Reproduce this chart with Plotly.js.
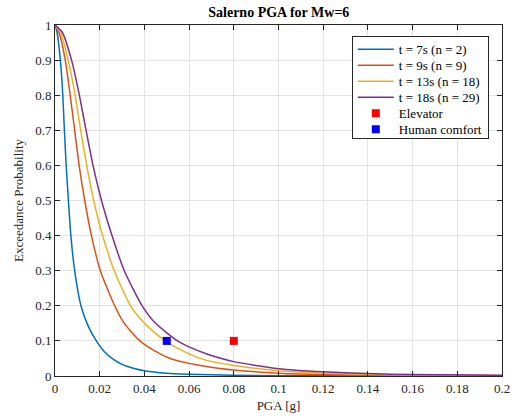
<!DOCTYPE html>
<html>
<head>
<meta charset="utf-8">
<script src="https://cdn.plot.ly/plotly-3.0.1.min.js"></script>
<style>html,body{margin:0;padding:0;background:#fff}#chart{width:515px;height:419px}</style>
</head>
<body>
<div id="chart"></div>
<script>
// Series names
const seriesNames = ["t = 7s (n = 2)", "t = 9s (n = 9)", "t = 13s (n = 18)", "t = 18s (n = 29)"];
// t = 7s
const x7 = [0, 0.0009, 0.0024, 0.0035, 0.0042, 0.005, 0.006, 0.0071, 0.0088, 0.0116, 0.0150, 0.0185, 0.022, 0.026, 0.03, 0.035, 0.04, 0.05, 0.06, 0.08, 0.1, 0.14, 0.2];
const y7 = [1, 0.98, 0.9, 0.8, 0.7, 0.6, 0.5, 0.4, 0.3, 0.2, 0.14, 0.1, 0.07, 0.048, 0.033, 0.022, 0.015, 0.008, 0.005, 0.002, 0.001, 0.0003, 0.0001];
// t = 9s
const x9 = [0, 0.0017, 0.0046, 0.0068, 0.0088, 0.0108, 0.0133, 0.0163, 0.0203, 0.0267, 0.031, 0.0380, 0.045, 0.0515, 0.06, 0.067, 0.08, 0.1, 0.12, 0.15, 0.2];
const y9 = [1, 0.98, 0.9, 0.8, 0.7, 0.6, 0.5, 0.4, 0.3, 0.2, 0.15, 0.1, 0.07, 0.05, 0.036, 0.028, 0.017, 0.008, 0.004, 0.002, 0.001];
// t = 13s
const x13 = [0, 0.0024, 0.0059, 0.009, 0.0115, 0.0142, 0.0173, 0.0213, 0.0265, 0.0338, 0.04, 0.0493, 0.06, 0.067, 0.08, 0.1, 0.12, 0.14, 0.16, 0.2];
const y13 = [1, 0.98, 0.9, 0.8, 0.7, 0.6, 0.5, 0.4, 0.3, 0.2, 0.15, 0.1, 0.063, 0.046, 0.030, 0.015, 0.008, 0.005, 0.003, 0.001];
// t = 18s
const x18 = [0, 0.0032, 0.0074, 0.0109, 0.0139, 0.0170, 0.0208, 0.0255, 0.0310, 0.0390, 0.045, 0.0548, 0.06, 0.067, 0.08, 0.1, 0.12, 0.14, 0.16, 0.2];
const y18 = [1, 0.98, 0.9, 0.8, 0.7, 0.6, 0.5, 0.4, 0.3, 0.2, 0.15, 0.1, 0.083, 0.065, 0.041, 0.021, 0.012, 0.007, 0.004, 0.002];
// Threshold points
const pointNames = ["Elevator", "Human comfort"];
const pointX = [0.08, 0.05];
const pointY = [0.1, 0.1];

const lineColors = ["#0072BD", "#D95319", "#EDB120", "#7E2F8E"];
const pointColors = ["#FF0000", "#0000FF"];
const xs = [x7, x9, x13, x18];
const ys = [y7, y9, y13, y18];
const FONT = "Liberation Serif, Times New Roman, Times, serif";

const traces = xs.map((xv, i) => ({
  x: xv, y: ys[i], name: seriesNames[i], type: "scatter", mode: "lines",
  line: {color: lineColors[i], width: 1.5, shape: "spline", smoothing: 0.6}
}));
pointNames.forEach((n, i) => traces.push({
  x: [pointX[i]], y: [pointY[i]], name: n, type: "scatter", mode: "markers",
  marker: {symbol: "square", size: 8, color: pointColors[i], line: {width: 0}}
}));

const axisCommon = {
  showline: true, linecolor: "#262626", linewidth: 1, mirror: "ticks",
  ticks: "inside", ticklen: 5, tickcolor: "#262626", tickwidth: 1,
  showgrid: true, gridcolor: "#e3e3e3", gridwidth: 1, zeroline: false,
  tickfont: {family: FONT, size: 13, color: "#262626"}
};

const layout = {
  width: 515, height: 419,
  margin: {l: 55, r: 13, t: 25, b: 43},
  paper_bgcolor: "#ffffff", plot_bgcolor: "#ffffff",
  font: {family: FONT, color: "#262626"},
  title: {text: "<b>Salerno PGA for Mw=6</b>", font: {family: FONT, size: 14, color: "#000"},
          x: 0.5414, xanchor: "center", y: 0.972, yanchor: "middle"},
  xaxis: Object.assign({}, axisCommon, {range: [0, 0.2], dtick: 0.02, tick0: 0,
    title: {text: "PGA [g]", font: {family: FONT, size: 13, color: "#262626"}, standoff: 6}}),
  yaxis: Object.assign({}, axisCommon, {range: [0, 1], dtick: 0.1, tick0: 0,
    title: {text: "Exceedance Probability", font: {family: FONT, size: 13, color: "#262626"}, standoff: 8}}),
  showlegend: true,
  legend: {x: 0.664, y: 0.969, xanchor: "left", yanchor: "top", bgcolor: "#ffffff",
    bordercolor: "#262626", borderwidth: 1, font: {family: FONT, size: 13, color: "#000"},
    itemwidth: 36, tracegroupgap: 0}
};

Plotly.newPlot("chart", traces, layout, {displayModeBar: false, staticPlot: true}).then(function (gd) {
  // tighten legend row spacing to match the reference (about 17px per row)
  try {
    const rows = gd.querySelectorAll(".legend .traces");
    const rowH = 16;
    let y0 = null;
    rows.forEach(function (r, i) {
      const t = r.getAttribute("transform") || "";
      const m = t.match(/translate\(\s*([-\d.]+)[ ,]+([-\d.]+)\s*\)/);
      if (!m) return;
      const tx = parseFloat(m[1]), ty = parseFloat(m[2]);
      if (y0 === null) y0 = ty - 2.5;
      r.setAttribute("transform", "translate(" + tx + "," + (y0 + i * rowH) + ")");
    });
    const bg = gd.querySelector(".legend rect.bg");
    if (bg && y0 !== null) {
      const h = y0 + (rows.length - 1) * rowH + 8.5;
      bg.setAttribute("height", h);
    }
  } catch (e) {}
});
</script>
</body>
</html>
